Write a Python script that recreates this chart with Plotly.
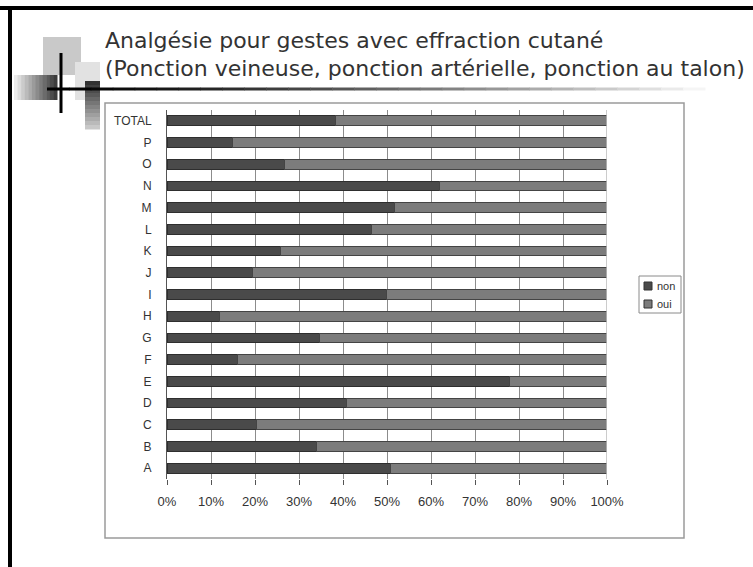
import plotly.graph_objects as go

categories = ["A", "B", "C", "D", "E", "F", "G", "H", "I", "J", "K", "L", "M", "N", "O", "P", "TOTAL"]
non_pct = [50.7, 34.0, 20.4, 40.8, 77.8, 16.0, 34.6, 11.9, 49.8, 19.4, 25.7, 46.4, 51.6, 62.0, 26.8, 14.9, 38.4]
oui_pct = [round(100 - v, 1) for v in non_pct]
series_names = ["non", "oui"]
series_colors = ["#4a4a4a", "#7c7c7c"]
x_ticks = [0, 10, 20, 30, 40, 50, 60, 70, 80, 90, 100]
x_tick_labels = ["0%", "10%", "20%", "30%", "40%", "50%", "60%", "70%", "80%", "90%", "100%"]
title_lines = ["Analgésie pour gestes avec effraction cutané",
               "(Ponction veineuse, ponction artérielle, ponction au talon)"]

W, H = 753, 567


def px(x):
    return x / W


def py(y):
    return 1 - y / H


fig = go.Figure()
fig.add_trace(go.Bar(
    y=categories, x=non_pct, name=series_names[0], orientation="h",
    marker=dict(color=series_colors[0], line=dict(color="#2e2e2e", width=1)),
))
fig.add_trace(go.Bar(
    y=categories, x=oui_pct, name=series_names[1], orientation="h",
    marker=dict(color=series_colors[1], line=dict(color="#444444", width=1)),
))

shapes = []
shapes.append(dict(type="rect", xref="paper", yref="paper", x0=px(105), x1=px(684), y0=py(538), y1=py(103),
                   line=dict(color="#9a9a9a", width=1.5), fillcolor="rgba(0,0,0,0)", layer="below"))
shapes.append(dict(type="rect", xref="paper", yref="paper", x0=0, x1=1, y0=py(10), y1=py(6),
                   line=dict(width=0), fillcolor="black"))
shapes.append(dict(type="rect", xref="paper", yref="paper", x0=px(8), x1=px(12), y0=0, y1=py(6),
                   line=dict(width=0), fillcolor="black"))
shapes.append(dict(type="rect", xref="paper", yref="paper", x0=px(43), x1=px(81), y0=py(75), y1=py(37),
                   line=dict(width=0), fillcolor="#c9c9c9"))
shapes.append(dict(type="rect", xref="paper", yref="paper", x0=px(75), x1=px(100), y0=py(100), y1=py(62),
                   line=dict(width=0), fillcolor="#e2e2e2"))
n = 12
for i in range(n):
    g = int(235 - (235 - 60) * i / (n - 1))
    x0 = 14 + (57 - 14) * i / n
    x1 = 14 + (57 - 14) * (i + 1) / n
    shapes.append(dict(type="rect", xref="paper", yref="paper", x0=px(x0), x1=px(x1 + 0.5), y0=py(100), y1=py(75),
                       line=dict(width=0), fillcolor=f"rgb({g},{g},{g})"))
for i in range(n):
    g = int(50 + (200 - 50) * i / (n - 1))
    y0 = 81 + (129 - 81) * i / n
    y1 = 81 + (129 - 81) * (i + 1) / n
    shapes.append(dict(type="rect", xref="paper", yref="paper", x0=px(85), x1=px(100), y0=py(y1 + 0.5), y1=py(y0),
                       line=dict(width=0), fillcolor=f"rgb({g},{g},{g})"))
shapes.append(dict(type="rect", xref="paper", yref="paper", x0=px(59.5), x1=px(62.5), y0=py(113), y1=py(53),
                   line=dict(width=0), fillcolor="black"))
m = 30
for i in range(m):
    g = int(245 * (i / (m - 1)) ** 1.3)
    x0 = 47 + (705 - 47) * i / m
    x1 = 47 + (705 - 47) * (i + 1) / m
    shapes.append(dict(type="rect", xref="paper", yref="paper", x0=px(x0), x1=px(x1 + 0.5), y0=py(90.5), y1=py(87.5),
                       line=dict(width=0), fillcolor=f"rgb({g},{g},{g})"))

shapes.append(dict(type="rect", xref="paper", yref="paper", x0=px(639), x1=px(681), y0=py(313), y1=py(276),
                   line=dict(color="#8a8a8a", width=1), fillcolor="white"))
annotations = []
for k, (name, col) in enumerate(zip(series_names, series_colors)):
    cy = 286 + 18 * k
    shapes.append(dict(type="rect", xref="paper", yref="paper", x0=px(644), x1=px(652), y0=py(cy + 4), y1=py(cy - 4),
                       line=dict(color="#333333", width=1), fillcolor=col))
    annotations.append(dict(text=name, xref="paper", yref="paper", x=px(655), y=py(cy), xanchor="left",
                            yanchor="middle", showarrow=False,
                            font=dict(family="Liberation Sans, Arial", size=11, color="#333333")))

for k, line in enumerate(title_lines):
    annotations.append(dict(text=line, xref="paper", yref="paper", x=px(103), y=py(40 + 29 * k),
                            xanchor="left", yanchor="middle", align="left", showarrow=False,
                            font=dict(family="DejaVu Sans", size=22, color="#333333")))

fig.update_layout(
    width=W, height=H, autosize=False,
    margin=dict(l=0, r=0, t=0, b=0, pad=0, autoexpand=False),
    paper_bgcolor="white", plot_bgcolor="white",
    barmode="stack", bargap=0.55,
    showlegend=False,
    font=dict(family="Liberation Sans, Arial", size=12, color="#333333"),
    xaxis=dict(domain=[px(167), px(607)], range=[0, 100], tickvals=x_ticks, ticktext=x_tick_labels,
               showgrid=True, gridcolor="#8c8c8c", gridwidth=1, automargin=False,
               ticks="outside", ticklen=5, tickcolor="#555555", ticklabelstandoff=5,
               showline=False, zeroline=False,
               tickfont=dict(size=13, color="#333333")),
    yaxis=dict(domain=[py(479), py(110)], showgrid=False, zeroline=False, automargin=False,
               showline=True, linecolor="#555555", linewidth=1,
               ticks="", ticklabelstandoff=12,
               tickfont=dict(size=12, color="#333333")),
    shapes=shapes,
    annotations=annotations,
)
fig.add_shape(type="line", xref="x", yref="paper", x0=100, x1=100, y0=py(479), y1=py(110),
              line=dict(color="#bbbbbb", width=1.5))

fig.write_html("out.html", config={"displayModeBar": False},
               post_script="document.body.style.margin='0';document.body.style.overflow='hidden';")
